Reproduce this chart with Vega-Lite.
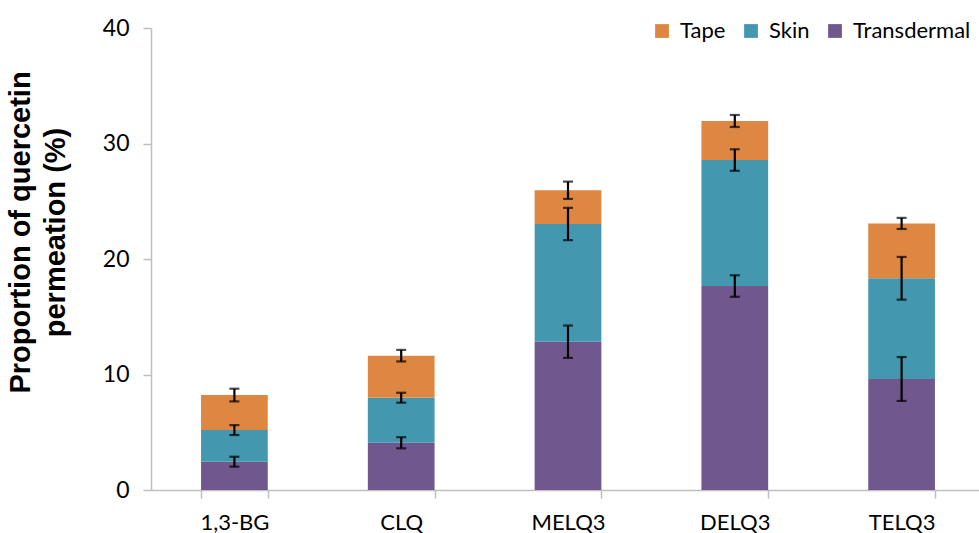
{
  "$schema": "https://vega.github.io/schema/vega-lite/v6.json",
  "autosize": "none",
  "padding": {"left": 151, "top": 28, "right": 0, "bottom": 43},
  "width": 834,
  "height": 462,
  "background": "white",
  "config": {
    "view": {"stroke": null},
    "font": "Lato",
    "axis": {"labelFont": "Lato", "titleFont": "Liberation Sans"},
    "legend": {"labelFont": "Lato"}
  },
  "data": {
    "values": [
      {"group": "1,3-BG", "type": "Transdermal", "layer": 1, "value": 2.45, "err": 0.43},
      {"group": "1,3-BG", "type": "Skin", "layer": 2, "value": 2.74, "err": 0.43},
      {"group": "1,3-BG", "type": "Tape", "layer": 3, "value": 3.03, "err": 0.55},
      {"group": "CLQ", "type": "Transdermal", "layer": 1, "value": 4.09, "err": 0.48},
      {"group": "CLQ", "type": "Skin", "layer": 2, "value": 3.9, "err": 0.43},
      {"group": "CLQ", "type": "Tape", "layer": 3, "value": 3.64, "err": 0.5},
      {"group": "MELQ3", "type": "Transdermal", "layer": 1, "value": 12.84, "err": 1.4},
      {"group": "MELQ3", "type": "Skin", "layer": 2, "value": 10.19, "err": 1.4},
      {"group": "MELQ3", "type": "Tape", "layer": 3, "value": 2.92, "err": 0.75},
      {"group": "DELQ3", "type": "Transdermal", "layer": 1, "value": 17.66, "err": 0.93},
      {"group": "DELQ3", "type": "Skin", "layer": 2, "value": 10.91, "err": 0.93},
      {"group": "DELQ3", "type": "Tape", "layer": 3, "value": 3.38, "err": 0.52},
      {"group": "TELQ3", "type": "Transdermal", "layer": 1, "value": 9.61, "err": 1.9},
      {"group": "TELQ3", "type": "Skin", "layer": 2, "value": 8.72, "err": 1.85},
      {"group": "TELQ3", "type": "Tape", "layer": 3, "value": 4.75, "err": 0.48}
    ]
  },
  "resolve": {"axis": {"y": "independent"}},
  "encoding": {
    "x": {
      "field": "group",
      "type": "nominal",
      "sort": null,
      "scale": {"paddingInner": 0.6, "paddingOuter": 0.3},
      "axis": {
        "title": null,
        "labelAngle": 0,
        "labelFontSize": 22,
        "labelColor": "#000000",
        "labelPadding": 14,
        "domainColor": "#BFBFBF",
        "domainWidth": 1.5,
        "tickColor": "#BFBFBF",
        "tickWidth": 1.5,
        "tickSize": 8,
        "tickBand": "extent"
      }
    }
  },
  "layer": [
    {
      "mark": {"type": "bar"},
      "encoding": {
        "y": {
          "field": "value",
          "type": "quantitative",
          "stack": "zero",
          "scale": {"domain": [0, 40], "nice": false},
          "axis": {
            "values": [0, 10, 20, 30, 40],
            "grid": false,
            "title": ["Proportion of quercetin", "permeation (%)"],
            "titleFont": "Liberation Sans",
            "titleFontSize": 29,
            "titleFontWeight": "bold",
            "titleColor": "#000000",
            "titleLineHeight": 35,
            "titlePadding": 32,
            "titleY": 204,
            "labelFontSize": 23,
            "labelColor": "#000000",
            "labelPadding": 14,
            "domainColor": "#BFBFBF",
            "domainWidth": 1.5,
            "tickColor": "#BFBFBF",
            "tickWidth": 1.5,
            "tickSize": 8
          }
        },
        "color": {
          "field": "type",
          "type": "nominal",
          "scale": {
            "domain": ["Tape", "Skin", "Transdermal"],
            "range": ["#DD8743", "#4398AF", "#70588F"]
          },
          "legend": {
            "title": null,
            "orient": "none",
            "legendX": 500,
            "legendY": -8,
            "direction": "horizontal",
            "columns": 3,
            "symbolType": "square",
            "symbolSize": 190,
            "symbolStrokeWidth": 0,
            "labelFontSize": 22,
            "labelColor": "#000000",
            "columnPadding": 14,
            "labelOffset": 7
          }
        },
        "order": {"field": "layer", "type": "quantitative", "sort": "ascending"}
      }
    },
    {
      "transform": [
        {"stack": "value", "groupby": ["group"], "as": ["v0", "v1"], "sort": [{"field": "layer", "order": "ascending"}]}
      ],
      "mark": {
        "type": "errorbar",
        "ticks": {"size": 10, "thickness": 2.2, "color": "#000000"},
        "rule": {"strokeWidth": 2.2, "color": "#000000"}
      },
      "encoding": {
        "y": {"field": "v1", "type": "quantitative", "axis": null},
        "yError": {"field": "err"}
      }
    }
  ]
}
